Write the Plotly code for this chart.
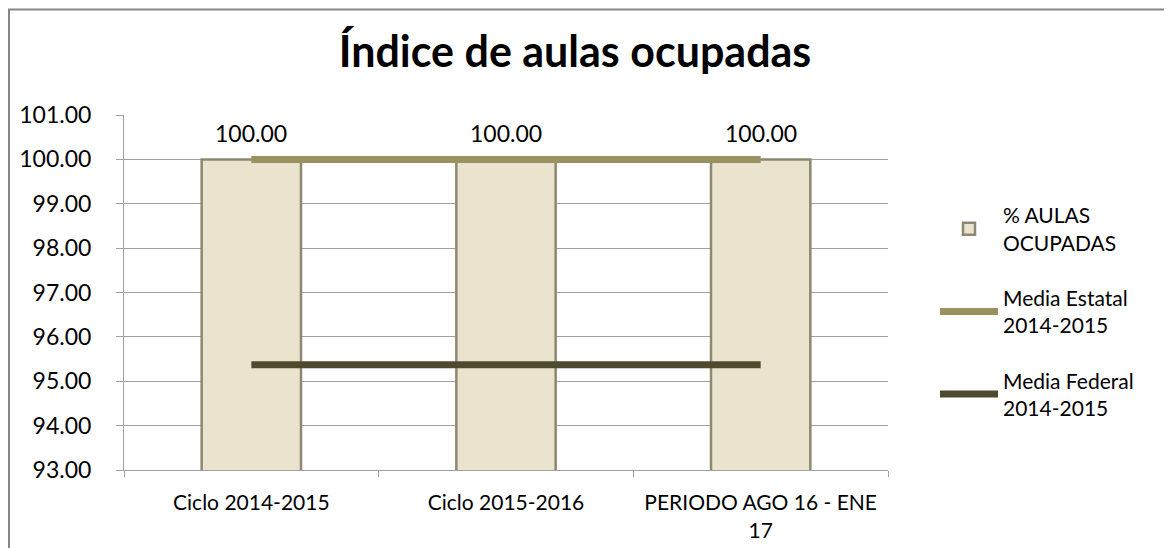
import plotly.graph_objects as go

categories = ["Ciclo 2014-2015", "Ciclo 2015-2016", "PERIODO AGO 16 - ENE<br>17"]
aulas_ocupadas = [100.0, 100.0, 100.0]
media_estatal = [100.0, 100.0, 100.0]
media_federal = [95.37, 95.37, 95.37]
y_ticks = [93, 94, 95, 96, 97, 98, 99, 100, 101]

FONT = "Lato, Carlito, Calibri, sans-serif"

W, H = 1172, 548
L, R, T, B = 116, 292, 107, 86
pw, ph = W - L - R, H - T - B

fig = go.Figure()
fig.add_trace(go.Bar(
    x=categories, y=aulas_ocupadas, name="% AULAS<br>OCUPADAS", legendgroup="a",
    marker=dict(color="#EAE4CF", line=dict(color="#8C8872", width=2.5)),
    width=0.39,
))
fig.add_trace(go.Scatter(
    x=categories, y=media_estatal, name="Media Estatal<br>2014-2015", legendgroup="b",
    mode="lines", line=dict(color="#9B9160", width=7),
))
fig.add_trace(go.Scatter(
    x=categories, y=media_federal, name="Media Federal<br>2014-2015", legendgroup="c",
    mode="lines", line=dict(color="#4F4A2E", width=7),
))

annotations = [
    dict(x=c, y=v, xref="x", yref="y", text=f"{v:.2f}", showarrow=False,
         yanchor="bottom", yshift=10, font=dict(size=23, family=FONT, color="#000000"))
    for c, v in zip(categories, aulas_ocupadas)
]

fig.update_layout(
    width=W, height=H,
    margin=dict(l=L, r=R, t=T, b=B),
    paper_bgcolor="white", plot_bgcolor="white",
    font=dict(family=FONT, color="#000000"),
    title=dict(text="<b>Índice de aulas ocupadas</b>", x=567 / W, xref="container",
               xanchor="center", y=1 - 44 / H, yanchor="middle",
               font=dict(size=43, family=FONT, color="#000000")),
    showlegend=True,
    legend=dict(x=(927 - L) / pw, xanchor="left", y=(H - B - 187) / ph, yanchor="top",
                font=dict(size=21, family=FONT), tracegroupgap=25,
                bgcolor="rgba(0,0,0,0)", itemwidth=58),
    annotations=annotations,
    shapes=[dict(type="rect", xref="paper", yref="paper",
                 x0=-(L - 1) / pw, x1=(W + 40 - L) / pw,
                 y0=-(B + 40) / ph, y1=(H - B - 1.5) / ph,
                 line=dict(color="#868686", width=2), layer="below")],
)
fig.update_yaxes(range=[93, 101], tickvals=y_ticks, tickformat=".2f",
                 showgrid=True, gridcolor="#A0A0A0", gridwidth=1,
                 showline=True, linecolor="#A0A0A0", linewidth=1,
                 ticks="outside", ticklen=7, tickcolor="#A0A0A0",
                 ticklabelstandoff=20,
                 tickfont=dict(size=23, family=FONT), zeroline=False)
fig.update_xaxes(showline=True, linecolor="#A0A0A0", linewidth=1,
                 ticks="outside", ticklen=6, tickcolor="#A0A0A0", tickson="boundaries",
                 ticklabelstandoff=14,
                 tickfont=dict(size=21, family=FONT))

fig.write_html("out.html")
